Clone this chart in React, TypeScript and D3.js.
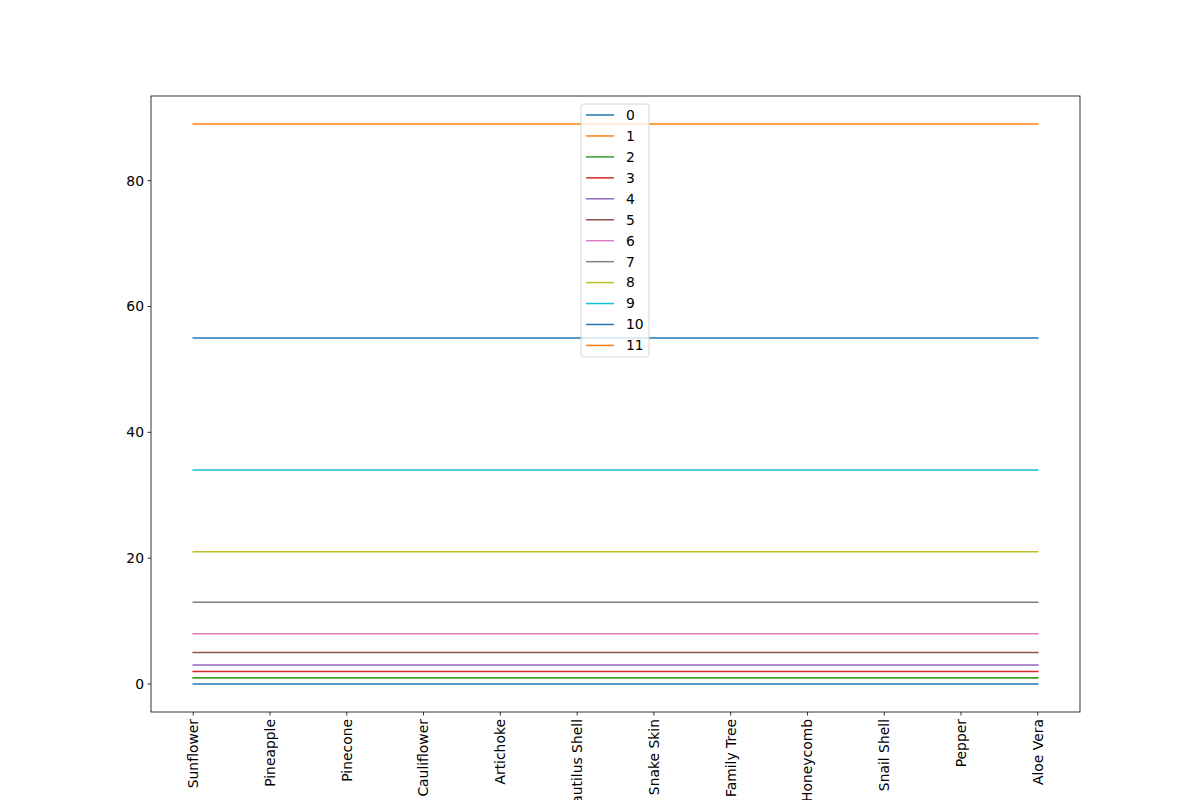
import React from 'react';
import * as d3 from 'd3';

const categories = [
  'Sunflower', 'Pineapple', 'Pinecone', 'Cauliflower', 'Artichoke', 'Nautilus Shell',
  'Snake Skin', 'Family Tree', 'Honeycomb', 'Snail Shell', 'Pepper', 'Aloe Vera',
];
// one constant value per series, repeated over every category
const seriesNames = ['0', '1', '2', '3', '4', '5', '6', '7', '8', '9', '10', '11'];
const seriesValues = [0, 1, 1, 2, 3, 5, 8, 13, 21, 34, 55, 89];
const yTicks = [0, 20, 40, 60, 80];
const colors = [
  '#1f77b4', '#ff7f0e', '#2ca02c', '#d62728', '#9467bd',
  '#8c564b', '#e377c2', '#7f7f7f', '#bcbd22', '#17becf',
];

const width = 1200;
const height = 800;
const margin = { top: 96, right: 120, bottom: 88, left: 151 };
const font = 'DejaVu Sans, sans-serif';
const fontSize = 13.9;

const App: React.FC = () => {
  const x0 = margin.left;
  const x1 = width - margin.right;
  const y0 = height - margin.bottom;
  const y1 = margin.top;

  const x = d3.scalePoint<string>()
    .domain(categories)
    .range([x0, x1])
    .padding(0.55);

  const vmin = d3.min(seriesValues)!;
  const vmax = d3.max(seriesValues)!;
  const pad = (vmax - vmin) * 0.05;
  const y = d3.scaleLinear().domain([vmin - pad, vmax + pad]).range([y0, y1]);

  const line = d3.line<string>()
    .x(d => x(d)!)
    .y((_, i, arr) => 0);

  const legendX = 581;
  const legendY = 104;
  const rowH = 20.95;

  return (
    <svg width={width} height={height} style={{ position: 'absolute', left: 0, top: 0 }}>
      <rect width={width} height={height} fill="#fff" />
      {seriesValues.map((v, i) => {
        const path = d3.line<string>().x(d => x(d)!).y(() => y(v))(categories)!;
        return (
          <path key={i} d={path} fill="none" stroke={colors[i % colors.length]}
            strokeWidth={1.5} strokeLinecap="square" />
        );
      })}
      <rect x={x0} y={y1} width={x1 - x0} height={y0 - y1} fill="none" stroke="#000" strokeWidth={0.8} />
      {yTicks.map(t => (
        <g key={t} transform={`translate(${x0},${y(t)})`}>
          <line x1={0} x2={-3.5} stroke="#000" strokeWidth={0.8} />
          <text x={-7} dy="0.35em" textAnchor="end" fontFamily={font} fontSize={fontSize}>{t}</text>
        </g>
      ))}
      {categories.map(c => (
        <g key={c} transform={`translate(${x(c)},${y0})`}>
          <line y1={0} y2={3.5} stroke="#000" strokeWidth={0.8} />
          <text transform="translate(0,7) rotate(-90)" textAnchor="end" dy="0.35em"
            fontFamily={font} fontSize={fontSize}>{c}</text>
        </g>
      ))}
      <g>
        <rect x={legendX} y={legendY} width={68} height={253} rx={3}
          fill="#fff" fillOpacity={0.8} stroke="#ccc" strokeWidth={0.8} />
        {seriesNames.map((n, i) => {
          const cy = legendY + 11 + i * rowH;
          return (
            <g key={n}>
              <line x1={legendX + 5} x2={legendX + 33} y1={cy} y2={cy}
                stroke={colors[i % colors.length]} strokeWidth={1.5} />
              <text x={legendX + 45} y={cy} dy="0.35em" fontFamily={font} fontSize={fontSize}>{n}</text>
            </g>
          );
        })}
      </g>
    </svg>
  );
};

export default App;
